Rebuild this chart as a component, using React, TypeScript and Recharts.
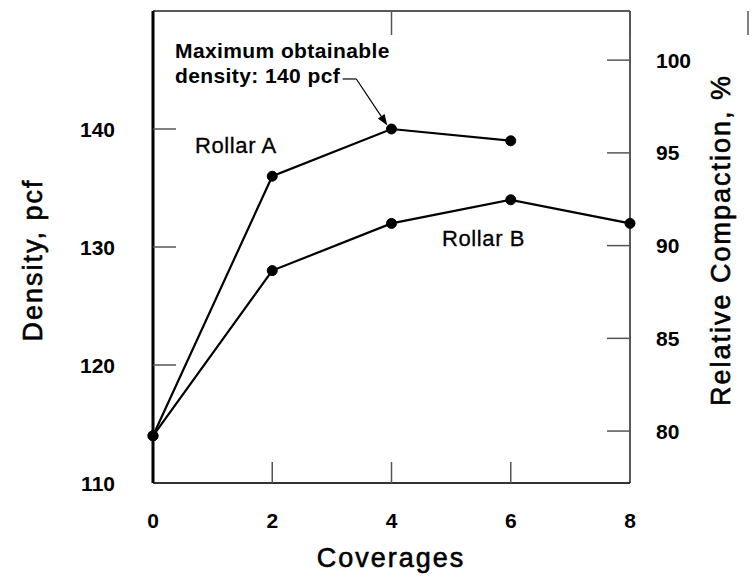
import React from "react";
import {
  LineChart,
  Line,
  XAxis,
  YAxis,
  ReferenceLine,
} from "recharts";

const coverages = [0, 2, 4, 6, 8];
const rollarA = [114, 136, 140, 139, null];
const rollarB = [114, 128, 132, 134, 132];

const densityTicks = [110, 120, 130, 140];
const compactionTicks = [80, 85, 90, 95, 100];
const coverageTicks = [0, 2, 4, 6, 8];
const innerTicks = [2, 4, 6];

const FONT = "'Liberation Sans', Arial, Helvetica, sans-serif";
const W = 752;
const H = 579;

const data = coverages.map((c, i) => ({ c, a: rollarA[i], b: rollarB[i] }));

// tick lines point into the plot, so they are drawn here and not by recharts
const LeftTick = (props: any) => {
  const { x, y, payload } = props;
  const axisX = x + 38;
  return (
    <g>
      {payload.value !== 110 && (
        <line x1={axisX} y1={y} x2={axisX + 23} y2={y} stroke="#555" strokeWidth={1.5} />
      )}
      <text x={x} y={y + 7.5} textAnchor="end" fontFamily={FONT} fontWeight="bold" fontSize={21} fill="#000">
        {payload.value}
      </text>
    </g>
  );
};

const RightTick = (props: any) => {
  const { x, y, payload } = props;
  const axisX = x - 26;
  return (
    <g>
      <line x1={axisX} y1={y} x2={axisX - 23} y2={y} stroke="#555" strokeWidth={1.5} />
      <text x={x} y={y + 7.5} textAnchor="start" fontFamily={FONT} fontWeight="bold" fontSize={21} fill="#000">
        {payload.value}
      </text>
    </g>
  );
};

const BottomTick = (props: any) => {
  const { x, y, payload } = props;
  const axisY = y - 30;
  return (
    <g>
      {innerTicks.includes(payload.value) && (
        <line x1={x} y1={axisY} x2={x} y2={axisY - 21} stroke="#555" strokeWidth={1.5} />
      )}
      <text x={x} y={axisY + 45} textAnchor="middle" fontFamily={FONT} fontWeight="bold" fontSize={21} fill="#000">
        {payload.value}
      </text>
    </g>
  );
};

const TopTick = (props: any) => {
  const { x, y } = props;
  return <line x1={x} y1={y} x2={x} y2={y + 24} stroke="#555" strokeWidth={1.5} />;
};

const ArrowLine = (props: any) => {
  const { x1, y1, x2, y2 } = props;
  const ang = Math.atan2(y2 - y1, x2 - x1);
  const len = 11;
  const half = 4;
  const bx = x2 - len * Math.cos(ang);
  const by = y2 - len * Math.sin(ang);
  const px = -Math.sin(ang) * half;
  const py = Math.cos(ang) * half;
  return (
    <g>
      <line x1={x1} y1={y1} x2={bx} y2={by} stroke="#000" strokeWidth={1.2} />
      <polygon points={`${x2},${y2} ${bx + px},${by + py} ${bx - px},${by - py}`} fill="#000" />
    </g>
  );
};

const titleStyle = { stroke: "#000", strokeWidth: 0.6 };

export default function App() {
  return (
    <div style={{ position: "absolute", left: 0, top: 0, width: W, height: H, background: "#fff" }}>
      <LineChart width={W} height={H} data={data} margin={{ top: 10, right: 0, bottom: 0, left: 0 }}>
        <XAxis
          dataKey="c"
          type="number"
          domain={[0, 8]}
          ticks={coverageTicks}
          height={96}
          axisLine={{ stroke: "#333", strokeWidth: 2 }}
          tickLine={false}
          tickSize={0}
          tickMargin={30}
          tick={<BottomTick />}
        />
        <XAxis
          xAxisId="top"
          orientation="top"
          type="number"
          domain={[0, 8]}
          allowDataOverflow
          ticks={innerTicks}
          height={1}
          axisLine={{ stroke: "#222", strokeWidth: 1.5 }}
          tickLine={false}
          tickSize={0}
          tickMargin={0}
          tick={<TopTick />}
        />
        <YAxis
          type="number"
          domain={[110, 150]}
          ticks={densityTicks}
          width={153}
          axisLine={{ stroke: "#000", strokeWidth: 3 }}
          tickLine={false}
          tickSize={0}
          tickMargin={38}
          tick={<LeftTick />}
        />
        <YAxis
          yAxisId="right"
          orientation="right"
          type="number"
          domain={[77.2, 102.65]}
          allowDataOverflow
          ticks={compactionTicks}
          interval={0}
          width={122}
          axisLine={{ stroke: "#222", strokeWidth: 1.5 }}
          tickLine={false}
          tickSize={0}
          tickMargin={26}
          tick={<RightTick />}
        />
        <ReferenceLine
          segment={[{ x: 3.18, y: 144.24 }, { x: 3.41, y: 144.24 }]}
          stroke="#000"
          strokeWidth={1.2}
        />
        <ReferenceLine
          segment={[{ x: 3.41, y: 144.24 }, { x: 3.93, y: 140.3 }]}
          shape={<ArrowLine />}
        />
        <Line
          dataKey="a"
          type="linear"
          stroke="#000"
          strokeWidth={2.2}
          dot={{ r: 5, fill: "#000", stroke: "#000", strokeWidth: 1 }}
          activeDot={false}
          isAnimationActive={false}
        />
        <Line
          dataKey="b"
          type="linear"
          stroke="#000"
          strokeWidth={2.2}
          dot={{ r: 5, fill: "#000", stroke: "#000", strokeWidth: 1 }}
          activeDot={false}
          isAnimationActive={false}
        />
      </LineChart>
      <svg
        width={W}
        height={H}
        style={{ position: "absolute", left: 0, top: 0, pointerEvents: "none" }}
        fontFamily={FONT}
        fill="#000"
      >
        <text x={175} y={58} fontSize={21} letterSpacing={0.4} fontWeight="bold">Maximum obtainable</text>
        <text x={175} y={83} fontSize={21} letterSpacing={0.4} fontWeight="bold">density: 140 pcf</text>
        <text x={195} y={153} fontSize={22} letterSpacing={0.6} {...titleStyle} strokeWidth={0.3}>Rollar A</text>
        <text x={442} y={246} fontSize={22} letterSpacing={0.6} {...titleStyle} strokeWidth={0.3}>Rollar B</text>
        <text x={391} y={567} fontSize={27} letterSpacing={2} textAnchor="middle" {...titleStyle}>Coverages</text>
        <text
          x={42}
          y={260}
          fontSize={27}
          letterSpacing={2}
          textAnchor="middle"
          transform="rotate(-90 42 260)"
          {...titleStyle}
        >
          Density, pcf
        </text>
        <text
          x={730}
          y={240}
          fontSize={27}
          letterSpacing={2}
          textAnchor="middle"
          transform="rotate(-90 730 240)"
          {...titleStyle}
        >
          Relative Compaction, %
        </text>
      </svg>
    </div>
  );
}
